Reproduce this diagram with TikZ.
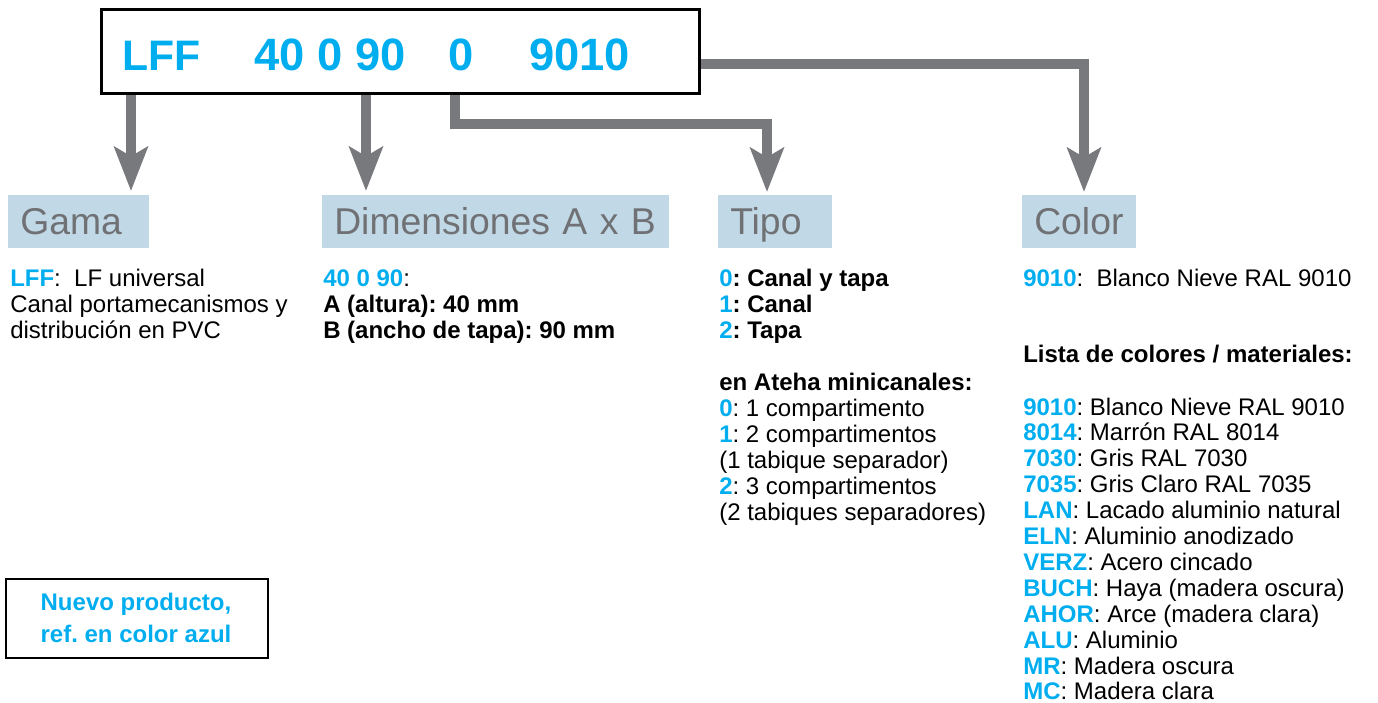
\documentclass[tikz,border=0pt]{standalone}
\usepackage{fontspec}
\setmainfont{Liberation Sans}
\usetikzlibrary{arrows.meta}
\definecolor{cblue}{RGB}{0,174,239}
\definecolor{cgray}{RGB}{120,121,125}
\definecolor{clbl}{RGB}{193,217,230}
\definecolor{ctxt}{RGB}{112,113,117}
\newcommand\cb[1]{\textcolor{cblue}{\textbf{#1}}}
\frenchspacing
\begin{document}
\begin{tikzpicture}[x=0.75pt,y=-0.75pt,
  conn/.style={draw=cgray, line width=7.5pt, line join=miter,
    -{Stealth[length=33pt,width=25pt,inset=7pt]}},
  txt/.style={anchor=base west, inner sep=0, font=\fontsize{18pt}{19.5pt}\selectfont},
  hdr/.style={anchor=base west, inner sep=0, text=cblue, font=\fontsize{32pt}{36pt}\selectfont\bfseries},
  hdrnum/.style={hdr, font=\fontsize{34pt}{36pt}\selectfont\bfseries},
  lbl/.style={fill=clbl, anchor=north west, inner xsep=9pt, inner ysep=0,
    minimum height=39.75pt, text height=22.5pt, text depth=3.75pt, align=left,
    text=ctxt, font=\fontsize{28pt}{30pt}\selectfont},
  note/.style={anchor=base, inner sep=0, text=cblue, font=\fontsize{18pt}{19.5pt}\selectfont\bfseries}
]
\useasboundingbox (0,0) rectangle (1378,703);

% label boxes
\node[lbl, text width=87.75pt] (gama) at (8,195) {Gama};
\node[lbl, text width=242.25pt] (dim) at (322,195) {Dimensiones A x B};
\node[lbl, text width=67.5pt] (tipo) at (718,195) {Tipo};
\node[lbl, text width=67.5pt] (color) at (1022,195) {Color};

% main box
\node[draw=black, line width=2pt, fill=white, anchor=north west, inner sep=0,
  minimum width=448.5pt, minimum height=63pt] (box) at (100,8) {};
\node[hdr] (hlff) at (122,70) {LFF};
\node[hdrnum] (hdim) at (254,70) {40 0 90};
\node[hdrnum] (htipo) at (448,70) {0};
\node[hdrnum] (hcol) at (529,70) {9010};

% connectors
\coordinate (t1) at (131,191);
\coordinate (t2) at (366,191);
\coordinate (k3) at (455,124);
\coordinate (t3) at (767,192);
\coordinate (k4) at (1084,64);
\coordinate (t4) at (1084,192);
\draw[conn] (box.south -| t1) -- (t1);
\draw[conn] (box.south -| t2) -- (t2);
\draw[conn] (box.south -| k3) -- (k3) -| (t3);
\draw[conn] (box.east |- k4) -| (t4);

% Gama text
\node[txt] (g1) at (10,286) {\cb{LFF}:\ \ LF universal};
\node[txt] (g2) at (10,312) {Canal portamecanismos y};
\node[txt] (g3) at (10,338) {distribución en PVC};

% Dimensiones text
\node[txt] (d1) at (323,286) {\cb{40 0 90}:};
\node[txt] (d2) at (323,312) {\textbf{A (altura): 40 mm}};
\node[txt] (d3) at (323,338) {\textbf{B (ancho de tapa): 90 mm}};

% Tipo text
\node[txt] (p1) at (719,286) {\textbf{\textcolor{cblue}{0}: Canal y tapa}};
\node[txt] (p2) at (719,312) {\textbf{\textcolor{cblue}{1}: Canal}};
\node[txt] (p3) at (719,338) {\textbf{\textcolor{cblue}{2}: Tapa}};
\node[txt] (p4) at (719,390) {\textbf{en Ateha minicanales:}};
\node[txt] (p5) at (719,416) {\cb{0}: 1 compartimento};
\node[txt] (p6) at (719,442) {\cb{1}: 2 compartimentos};
\node[txt] (p7) at (719,468) {(1 tabique separador)};
\node[txt] (p8) at (719,494) {\cb{2}: 3 compartimentos};
\node[txt] (p9) at (719,520) {(2 tabiques separadores)};

% Color text
\node[txt] (c1) at (1023,286) {\cb{9010}:\ \ Blanco Nieve RAL 9010};
\node[txt] (c2) at (1023,362) {\textbf{Lista de colores / materiales:}};
\foreach \c/\d [count=\i from 0] in {9010/Blanco Nieve RAL 9010, 8014/Marrón RAL 8014,
  7030/Gris RAL 7030, 7035/Gris Claro RAL 7035, LAN/Lacado aluminio natural,
  ELN/Aluminio anodizado, VERZ/Acero cincado, BUCH/Haya (madera oscura),
  AHOR/Arce (madera clara), ALU/Aluminio, MR/Madera oscura, MC/Madera clara}
  \node[txt] (col\i) at (1023,415+25.9*\i) {\cb{\c}: \d};

% note box
\node[draw=black, line width=1.5pt, anchor=north west, inner sep=0,
  minimum width=196.5pt, minimum height=59.25pt] (nuevo) at (5,578) {};
\node[note] (n1) at (136,610) {Nuevo producto,};
\node[note] (n2) at (136,642) {ref. en color azul};
\end{tikzpicture}
\end{document}
